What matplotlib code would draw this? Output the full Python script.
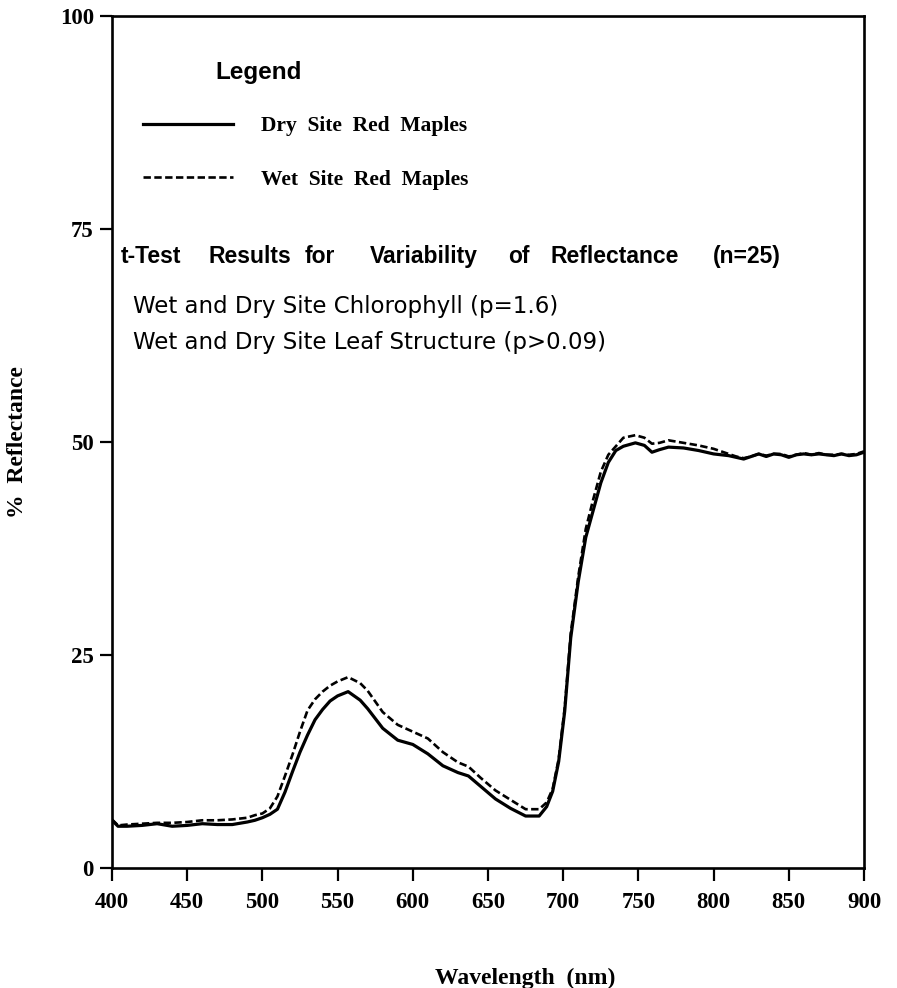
import matplotlib
matplotlib.use("Agg")
import matplotlib.pyplot as plt

# spectral reflectance of red maple leaves, dry vs wet site
wavelength = [400, 404, 410, 420, 430, 440, 450, 460, 470, 480,
              490, 495, 500, 505, 510, 515, 520, 525, 530, 535,
              540, 545, 550, 557, 565, 570, 580, 590, 600, 610,
              620, 630, 637, 645, 655, 665, 675, 684, 689, 693,
              697, 701, 705, 710, 715, 720, 725, 730, 735, 740,
              748, 754, 759, 764, 770, 780, 790, 800, 810, 815,
              820, 825, 830, 835, 840, 845, 850, 855, 860, 865,
              870, 875, 880, 885, 890, 895, 900]

dry_site = [5.6, 4.9, 4.9, 5.0, 5.2, 4.9, 5.0, 5.2, 5.1, 5.1,
            5.4, 5.6, 5.9, 6.3, 6.9, 8.9, 11.3, 13.6, 15.6, 17.4,
            18.6, 19.6, 20.2, 20.7, 19.7, 18.7, 16.4, 15.0, 14.5, 13.4,
            12.0, 11.2, 10.8, 9.6, 8.1, 7.0, 6.1, 6.1, 7.2, 9.0,
            12.5, 18.4, 27.0, 33.6, 38.8, 42.0, 45.2, 47.6, 49.0, 49.5,
            49.9, 49.6, 48.8, 49.1, 49.4, 49.3, 49.0, 48.6, 48.4, 48.2,
            48.0, 48.3, 48.6, 48.3, 48.6, 48.5, 48.2, 48.5, 48.6, 48.5,
            48.6, 48.5, 48.4, 48.6, 48.4, 48.5, 48.8]

wet_site = [5.7, 5.0, 5.1, 5.2, 5.3, 5.3, 5.4, 5.6, 5.6, 5.7,
            5.9, 6.2, 6.4, 7.0, 8.4, 10.8, 13.3, 16.0, 18.5, 19.8,
            20.7, 21.4, 21.9, 22.4, 21.7, 20.8, 18.3, 16.8, 16.0, 15.2,
            13.6, 12.4, 11.9, 10.6, 9.1, 8.0, 6.9, 6.9, 7.7, 9.3,
            12.8, 18.8, 27.5, 34.2, 39.8, 43.3, 46.5, 48.5, 49.5, 50.5,
            50.8, 50.5, 49.8, 49.9, 50.2, 49.9, 49.6, 49.2, 48.6, 48.3,
            48.1, 48.3, 48.6, 48.4, 48.6, 48.6, 48.3, 48.5, 48.7, 48.5,
            48.7, 48.5, 48.5, 48.6, 48.5, 48.6, 48.9]

series_labels = ["Dry  Site  Red  Maples", "Wet  Site  Red  Maples"]
x_ticks = [400, 450, 500, 550, 600, 650, 700, 750, 800, 850, 900]
y_ticks = [0, 25, 50, 75, 100]

ttest_words = ["t-Test", "Results", "for", "Variability", "of",
               "Reflectance", "(n=25)"]
ttest_lines = ["Wet and Dry Site Chlorophyll (p=1.6)",
               "Wet and Dry Site Leaf Structure (p>0.09)"]

W, H = 897, 988


def px(x, y):
    """pixel position (from top left) -> figure fraction"""
    return x / W, 1 - y / H


serif = {"family": "Liberation Serif", "weight": "bold"}
sans_bold = {"family": "Liberation Sans", "weight": "bold"}

fig = plt.figure(figsize=(W / 100, H / 100), dpi=100)
ax = fig.add_axes([112 / W, 1 - 868 / H, 752 / W, 852 / H])

wet_line, = ax.plot(wavelength, wet_site, color="black", lw=1.9,
                    linestyle=(0, (2.8, 1.3)))
dry_line, = ax.plot(wavelength, dry_site, color="black", lw=2.3,
                    solid_joinstyle="round")

ax.set_xlim(400, 900)
ax.set_ylim(0, 100)
ax.set_xticks(x_ticks)
ax.set_yticks(y_ticks)
ax.set_xticklabels([str(t) for t in x_ticks], fontdict=serif, fontsize=16.5)
ax.set_yticklabels([str(t) for t in y_ticks], fontdict=serif, fontsize=16.5)
ax.tick_params(axis="x", direction="out", length=9, width=1.6, pad=8)
ax.tick_params(axis="y", direction="out", length=9, width=1.6, pad=4)
for s in ax.spines.values():
    s.set_linewidth(1.9)

ax.set_xlabel("Wavelength  (nm)", fontdict=serif, fontsize=17)
ax.xaxis.set_label_coords(0.55, -0.117)
ax.set_ylabel("%  Reflectance", fontdict=serif, fontsize=17)
ax.yaxis.set_label_coords(-0.112, 0.5)

# legend block
fig.text(*px(215, 79), "Legend", fontdict=sans_bold, fontsize=17.5,
         va="baseline")
ax.legend([dry_line, wet_line], series_labels, loc="upper left",
          bbox_to_anchor=px(143, 116), bbox_transform=fig.transFigure,
          frameon=False, borderpad=0, borderaxespad=0,
          handlelength=4.2, handletextpad=1.3, labelspacing=1.55,
          prop={"family": "Liberation Serif", "weight": "bold",
                "size": 15.5})

# t-test summary
word_x = [121, 208, 305, 370, 508, 551, 713]
for word, x in zip(ttest_words, word_x):
    fig.text(*px(x, 263), word, fontdict=sans_bold, fontsize=16.5,
             va="baseline")
for line, y in zip(ttest_lines, [313, 349]):
    fig.text(*px(133, y), line, family="DejaVu Sans", fontsize=16.5,
             va="baseline")

fig.savefig("out.png", dpi=100)
